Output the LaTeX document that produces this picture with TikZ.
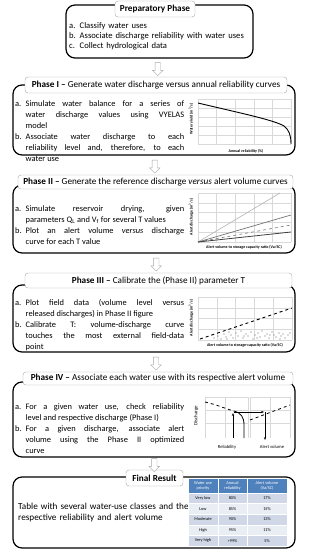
\documentclass[tikz,border=0pt]{standalone}
\usepackage{fontspec}
\setmainfont{Carlito}
\usepackage{tikz}
\usetikzlibrary{shapes.arrows,arrows.meta,calc}
\definecolor{titleline}{HTML}{A6A6A6}
\definecolor{gridgrey}{HTML}{D9D9D9}
\definecolor{headblue}{HTML}{4F81BD}
\definecolor{rowdark}{HTML}{D0D8E8}
\definecolor{rowlight}{HTML}{E9EDF4}
\newcommand{\stepitem}[2]{\par\noindent\hangindent=10.5pt\hangafter=1\makebox[10.5pt][l]{#1}#2\par}

\begin{document}
\begin{tikzpicture}[x=1pt, y=-1pt,
  phasebox/.style={draw, line width=1.2pt, rounded corners=9pt, inner sep=0pt},
  phasetitle/.style={draw=titleline, fill=white, rounded corners=3pt, inner sep=0pt, font=\fontsize{9.2}{10}\selectfont},
  steptext/.style={anchor=north west, inner sep=0pt, text width=169pt, align=justify, font=\fontsize{8.4}{11}\selectfont},
  flowarrow/.style={single arrow, draw=titleline, fill=white, shape border rotate=270, minimum height=13pt, minimum width=10pt, single arrow head extend=2.5pt, inner sep=2.5pt},
  axislabel/.style={font=\bfseries\fontsize{4}{4}\selectfont, inner sep=0pt},
  gridline/.style={draw=gridgrey, line width=0.4pt},
  cell/.style={draw=white, line width=0.5pt, font=\fontsize{4.3}{5}\selectfont, inner sep=0pt, align=center}]
\useasboundingbox (0,0) rectangle (309,550);

% preparatory phase
\node[phasebox, minimum width=187pt, minimum height=53pt] (prepBox) at (159.5,31.5) {};
\node[phasetitle, minimum width=80pt, minimum height=16pt] (prepTitle) at (155,9) {\textbf{Preparatory Phase}};
\node[anchor=north west, inner sep=0pt, text width=185pt, align=left, font=\fontsize{8.6}{9.6}\selectfont] (prepText) at (69,19) {%
  \stepitem{a.}{Classify water uses}
  \stepitem{b.}{Associate discharge reliability with water uses}
  \stepitem{c.}{Collect hydrological data}};

% phase I
\node[phasebox, minimum width=282pt, minimum height=70pt] (p1Box) at (154,120) {};
\node[phasetitle, minimum width=262pt, minimum height=16pt] (p1Title) at (156,85) {\textbf{Phase I --} Generate water discharge versus annual reliability curves};
\node[steptext] (p1Text) at (15,95) {%
  \stepitem{a.}{Simulate water balance for a series of\linebreak water discharge values using VYELAS\linebreak model}
  \stepitem{b.}{Associate water discharge to each\linebreak reliability level and, therefore, to each\linebreak water use}};
\foreach \i in {0,...,5} \draw[gridline] (198+18.6*\i,99) -- (198+18.6*\i,144);
\foreach \i in {0,...,5} \draw[gridline] (198,99+9*\i) -- (291,99+9*\i);
\draw[line width=0.9pt] (198,103) .. controls (240,113) and (274,120) .. (284,126) .. controls (289,130) and (291,135) .. (291,144);
\node[axislabel, rotate=90] (p1YLabel) at (191,119) {Water yield (m\textsuperscript{3}/s)};
\node[axislabel] (p1XLabel) at (246,151) {Annual reliability (\%)};

% phase II
\node[phasebox, minimum width=282pt, minimum height=68pt] (p2Box) at (154,219) {};
\node[phasetitle, minimum width=275pt, minimum height=14pt] (p2Title) at (155.5,182) {\textbf{Phase II --} Generate the reference discharge \emph{versus} alert volume curves};
\node[steptext] (p2Text) at (15,200.5) {%
  \stepitem{a.}{Simulate reservoir drying, given\linebreak parameters Q\textsubscript{L} and V\textsubscript{f} for several T values}
  \stepitem{b.}{Plot an alert volume \emph{versus} discharge\linebreak curve for each T value}};
\foreach \i in {0,...,5} \draw[gridline] (198+18.6*\i,193) -- (198+18.6*\i,242);
\foreach \i in {0,...,5} \draw[gridline] (198,193+9.8*\i) -- (291,193+9.8*\i);
\draw[black!30, line width=0.6pt] (198,242) -- (280,193);
\draw[black!55, line width=0.7pt] (198,242) -- (291,215);
\draw[black!55, dashed, line width=0.6pt] (198,242) -- (291,225);
\draw[black!75, line width=0.8pt] (198,242) -- (291,232);
\node[axislabel, rotate=90] (p2YLabel) at (191,217) {Alert discharge (m\textsuperscript{3}/s)};
\node[axislabel] (p2XLabel) at (244,247) {Alert volume to storage capacity ratio (Va/SC)};

% phase III
\node[phasebox, minimum width=282pt, minimum height=67pt] (p3Box) at (154,318.5) {};
\node[phasetitle, minimum width=267pt, minimum height=15pt] (p3Title) at (158.5,280.5) {\textbf{Phase III --} Calibrate the (Phase II) parameter T};
\node[steptext] (p3Text) at (15,294) {%
  \stepitem{a.}{Plot field data (volume level versus\linebreak released discharges) in Phase II figure}
  \stepitem{b.}{Calibrate T: volume-discharge curve\linebreak touches the most external field-data\linebreak point}};
\foreach \i in {0,...,5} \draw[gridline] (198+18.8*\i,297) -- (198+18.8*\i,340);
\foreach \i in {0,...,4} \draw[gridline] (198,297+10.75*\i) -- (292,297+10.75*\i);
\draw[dashed, line width=0.9pt] (200,339) -- (292,308);
\foreach \px/\py in {214/338,218/336,221/339,224/334,226/337,229/332,231/335,233/338,236/333,238/336,241/331,243/338,246/334,248/336,251/332,253/339,255/335,258/333,260/337,262/331,265/336,267/334,269/338,272/332,274/335,276/337,279/333,281/336,283/334,285/338,288/335,290/333,227/339,244/336,257/338,270/335,280/339}
  \fill[black!60] (\px,\py) circle (0.7pt);
\node[axislabel, rotate=90] (p3YLabel) at (191,318) {Alert discharge (m\textsuperscript{3}/s)};
\node[axislabel] (p3XLabel) at (245,345) {Alert volume to storage-capacity ratio (Va/SC)};

% phase IV
\node[phasebox, minimum width=282pt, minimum height=75pt] (p4Box) at (154,419.5) {};
\node[phasetitle, minimum width=270pt, minimum height=13pt] (p4Title) at (158,378.5) {\textbf{Phase IV --} Associate each water use with its respective alert volume};
\node[steptext] (p4Text) at (15,398) {%
  \stepitem{a.}{For a given water use, check reliability\linebreak level and respective discharge (Phase I)}
  \stepitem{b.}{For a given discharge, associate alert\linebreak volume using the Phase II optimized\linebreak curve}};
\foreach \gx in {205,225,248,250,270,290} \draw[gridline] (\gx,397) -- (\gx,438);
\foreach \gy in {397,410,423} {
  \draw[gridline] (205,\gy) -- (248,\gy);
  \draw[gridline] (250,\gy) -- (290,\gy);
}
\draw[dashed, line width=0.8pt] (205,402) .. controls (218,405) and (226,409) .. (234,411);
\draw[line width=0.8pt] (234,411) .. controls (241,413) and (244,417) .. (244,425) -- (244,438);
\draw[dashed, line width=0.8pt] (250,420) -- (290,405);
\draw[-{Stealth[length=3pt]}, line width=0.7pt] (233,438) -- (233,413);
\draw[-{Stealth[length=3pt]}, line width=0.7pt] (234,412) -- (264,412);
\draw[-{Stealth[length=3pt]}, line width=0.7pt] (265,412) -- (265,440);
\node[rotate=90, inner sep=0pt, font=\fontsize{5}{5}\selectfont] (p4YLabel) at (196,416) {Discharge};
\node[inner sep=0pt, font=\fontsize{4.6}{5}\selectfont] (relLabel) at (227,447) {Reliability};
\node[inner sep=0pt, font=\fontsize{4.6}{5}\selectfont] (volLabel) at (272,447) {Alert volume};

% final result
\node[phasebox, minimum width=282pt, minimum height=71pt] (finalBox) at (154,512.5) {};
\node[phasetitle, minimum width=57pt, minimum height=16pt] (finalTitle) at (154.5,478) {\textbf{Final Result}};
\node[anchor=north west, inner sep=0pt, text width=172pt, align=left, font=\fontsize{9.2}{10.8}\selectfont] (finalText) at (18,503) {Table with several water-use classes and the\\respective reliability and alert volume};
\node[cell, fill=headblue, text=white, minimum width=30pt, minimum height=15pt] (hPri) at (203,485.5) {Water use\\priority};
\node[cell, fill=headblue, text=white, minimum width=29pt, minimum height=15pt] (hRel) at (232.5,485.5) {Annual\\reliability};
\node[cell, fill=headblue, text=white, minimum width=40pt, minimum height=15pt] (hVol) at (267,485.5) {Alert volume\\(Va/SC)};
\foreach \pri/\rel/\vol [count=\i] in {Very low/80\%/17\%,Low/85\%/15\%,Moderate/90\%/13\%,High/95\%/11\%,Very high/>99\%/5\%}{
  \pgfmathsetmacro{\rowy}{493+10.6*\i-5.3}
  \ifodd\i\relax\def\rowcol{rowdark}\else\def\rowcol{rowlight}\fi
  \node[cell, fill=\rowcol, minimum width=30pt, minimum height=10.6pt] (pri\i) at (203,\rowy) {\pri};
  \node[cell, fill=\rowcol, minimum width=29pt, minimum height=10.6pt] (rel\i) at (232.5,\rowy) {\rel};
  \node[cell, fill=\rowcol, minimum width=40pt, minimum height=10.6pt] (vol\i) at (267,\rowy) {\vol};
}

% arrows between phases
\node[flowarrow] (arrow1) at ($(prepBox.south)!0.5!(p1Title.north)$) {};
\node[flowarrow] (arrow2) at ($(p1Box.south)!0.5!(p2Title.north)$) {};
\node[flowarrow] (arrow3) at ($(p2Box.south)!0.5!(p3Title.north)$) {};
\node[flowarrow] (arrow4) at ($(p3Box.south)!0.5!(p4Title.north)$) {};
\node[flowarrow] (arrow5) at ($(p4Box.south)!0.5!(finalTitle.north)$) {};
\end{tikzpicture}
\end{document}
